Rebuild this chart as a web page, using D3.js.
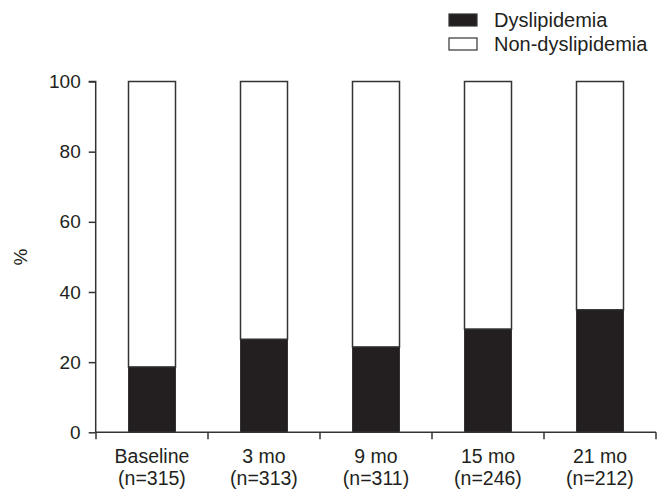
<!DOCTYPE html>
<html><head><meta charset="utf-8">
<script src="https://cdn.jsdelivr.net/npm/d3@7"></script>
<style>body{margin:0;background:#fff}svg{display:block}text{font-family:"Liberation Sans",Arial,sans-serif;fill:#231f20}</style>
</head><body><svg id="c" width="660" height="490"></svg>
<script>
const categories = ["Baseline", "3 mo", "9 mo", "15 mo", "21 mo"];
const sampleSizes = ["(n=315)", "(n=313)", "(n=311)", "(n=246)", "(n=212)"];
const dyslipidemia = [18.6, 26.5, 24.3, 29.4, 34.9];
const nonDyslipidemia = dyslipidemia.map(v => 100 - v);
const yTicks = [0, 20, 40, 60, 80, 100];
const seriesNames = ["Dyslipidemia", "Non-dyslipidemia"];

const svg = d3.select("#c");
const ink = "#231f20";
const x = d3.scaleBand().domain(categories).range([96, 656]).paddingInner(0).paddingOuter(0);
const y = d3.scaleLinear().domain([0, 100]).range([432.3, 81.5]);
const bw = 47;

const rows = categories.map((c, i) => ({c, d: dyslipidemia[i], n: nonDyslipidemia[i]}));
const g = svg.append("g");
g.selectAll("rect.n").data(rows).join("rect").attr("class", "n")
  .attr("x", d => x(d.c) + x.bandwidth()/2 - bw/2)
  .attr("width", bw)
  .attr("y", d => y(d.d + d.n))
  .attr("height", d => y(d.d) - y(d.d + d.n))
  .attr("fill", "#fff").attr("stroke", "#333").attr("stroke-width", 1.5);
g.selectAll("rect.d").data(rows).join("rect").attr("class", "d")
  .attr("x", d => x(d.c) + x.bandwidth()/2 - bw/2)
  .attr("width", bw)
  .attr("y", d => y(d.d))
  .attr("height", d => y(0) - y(d.d))
  .attr("fill", ink).attr("stroke", "#333").attr("stroke-width", 1);

// Y axis
const ya = svg.append("g").attr("transform", "translate(95.7,0)")
  .call(d3.axisLeft(y).tickValues(yTicks).tickSize(7).tickPadding(8));
ya.select(".domain").attr("stroke", "#333").attr("stroke-width", 1.5).attr("d", `M-7,${y(100)}H0V${y(0)}`);
ya.selectAll(".tick line").attr("stroke", "#333").attr("stroke-width", 1.5);
ya.selectAll(".tick text").attr("font-size", 19).attr("fill", ink).attr("font-family", "Liberation Sans, Arial, sans-serif");

// X axis
const xa = svg.append("g").attr("transform", `translate(0,${y(0)})`);
xa.append("line").attr("x1", 95.7).attr("x2", x.range()[1]).attr("y1", 0).attr("y2", 0).attr("stroke", "#333").attr("stroke-width", 1.5);
const bounds = categories.map(c => x(c)).concat([x.range()[1]]);
xa.selectAll("line.t").data(bounds).join("line").attr("class", "t")
  .attr("x1", d => d).attr("x2", d => d).attr("y1", 0).attr("y2", 7)
  .attr("stroke", "#333").attr("stroke-width", 1.5);
const xl = xa.selectAll("text.l").data(rows).join("text").attr("class", "l")
  .attr("text-anchor", "middle").attr("font-size", 19.5);
xl.append("tspan").attr("x", d => x(d.c) + x.bandwidth()/2).attr("y", 30.5).text(d => d.c);
xl.append("tspan").attr("x", d => x(d.c) + x.bandwidth()/2).attr("y", 53).text((d, i) => sampleSizes[i]);

// Y title
svg.append("text").attr("transform", "translate(27,257) rotate(-90)").attr("text-anchor", "middle")
  .attr("font-size", 19).text("%");

// Legend
const leg = svg.append("g").selectAll("g").data(seriesNames).join("g")
  .attr("transform", (d, i) => `translate(449,${14 + i * 24})`);
leg.append("rect").attr("width", 28).attr("height", 12)
  .attr("fill", (d, i) => i === 0 ? ink : "#fff").attr("stroke", "#333").attr("stroke-width", 1.2);
leg.append("text").attr("x", 45).attr("y", 13).attr("font-size", 20).text(d => d);
</script></body></html>
